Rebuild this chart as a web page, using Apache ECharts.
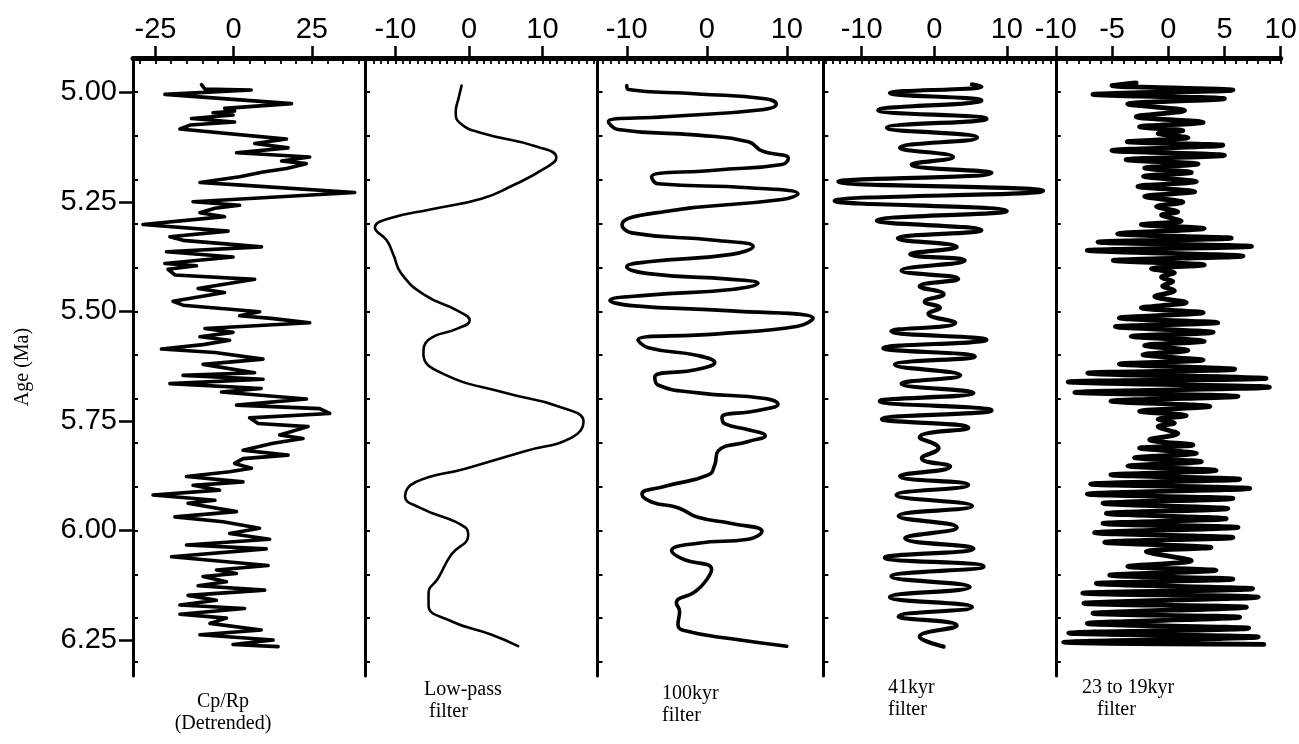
<!DOCTYPE html>
<html><head><meta charset="utf-8">
<script src="https://cdn.jsdelivr.net/npm/echarts@6/dist/echarts.min.js"></script>
<style>html,body{margin:0;padding:0;background:#fff}#c{width:1299px;height:744px}</style>
</head><body><div id="c"></div>
<script>
// ---------- DATA: [age (Ma), value] ----------
const cpRp = [[4.983,-10.3],[4.993,-9.2],[4.995,5.6],[5.005,-22.0],[5.026,18.5],[5.037,-2.9],[5.043,0.3],[5.047,-6.6],[5.052,-0.2],[5.060,-13.5],[5.068,0.3],[5.075,-14.0],[5.084,-17.2],[5.107,16.9],[5.117,6.7],[5.127,17.4],[5.138,0.9],[5.148,24.3],[5.157,15.3],[5.163,23.2],[5.174,16.9],[5.182,9.4],[5.193,1.9],[5.206,-10.8],[5.212,2.5],[5.229,38.7],[5.250,-13.0],[5.258,1.9],[5.265,-6.0],[5.275,-10.8],[5.284,-2.9],[5.302,-29.0],[5.317,-1.8],[5.330,-20.4],[5.338,-16.2],[5.353,8.9],[5.364,-21.5],[5.376,-0.2],[5.391,-22.0],[5.396,-11.9],[5.404,-21.0],[5.417,-18.8],[5.427,6.7],[5.448,-11.4],[5.457,-2.9],[5.477,-19.4],[5.486,-16.2],[5.501,8.3],[5.510,1.9],[5.516,12.0],[5.526,24.3],[5.539,-9.2],[5.548,-0.2],[5.558,-10.8],[5.566,-1.3],[5.576,-9.8],[5.586,-23.1],[5.594,-6.0],[5.609,9.4],[5.621,-9.8],[5.640,6.7],[5.646,-16.2],[5.655,9.4],[5.665,-20.4],[5.676,8.8],[5.684,-3.9],[5.700,23.3],[5.714,0.9],[5.722,27.5],[5.733,30.7],[5.743,5.1],[5.756,7.8],[5.763,23.8],[5.782,14.7],[5.790,22.2],[5.801,12.6],[5.817,3.0],[5.828,17.4],[5.836,3.0],[5.847,0.3],[5.858,5.7],[5.866,-1.3],[5.877,-15.1],[5.889,3.0],[5.897,-13.0],[5.908,-4.5],[5.919,-25.8],[5.931,-6.0],[5.938,-14.6],[5.957,0.9],[5.969,-18.8],[5.980,-3.4],[5.995,8.3],[6.007,-1.3],[6.020,11.5],[6.033,-15.1],[6.042,10.4],[6.060,-19.9],[6.080,11.0],[6.090,-5.5],[6.098,0.9],[6.105,-9.8],[6.117,-2.3],[6.126,-11.4],[6.136,9.9],[6.148,-14.6],[6.159,-5.5],[6.170,-17.2],[6.178,3.5],[6.191,-17.2],[6.200,-2.3],[6.212,-7.6],[6.227,8.8],[6.238,-10.8],[6.250,12.6],[6.260,-0.2],[6.265,14.2]];

const lowPass = [[4.985,-1.0],[5.013,-1.4],[5.045,-1.8],[5.071,-1.2],[5.093,1.7],[5.125,9.4],[5.149,11.9],[5.174,10.3],[5.214,5.8],[5.243,1.7],[5.267,-5.1],[5.289,-11.0],[5.309,-12.8],[5.338,-11.2],[5.370,-10.3],[5.414,-9.2],[5.463,-6.0],[5.499,-1.5],[5.521,0.1],[5.539,-1.5],[5.565,-5.5],[5.597,-6.2],[5.641,-3.7],[5.686,4.9],[5.717,12.2],[5.752,15.6],[5.788,14.0],[5.819,7.6],[5.859,-0.5],[5.890,-7.3],[5.922,-8.7],[5.948,-6.7],[5.993,-0.5],[6.011,-0.1],[6.055,-2.4],[6.109,-4.2],[6.144,-5.5],[6.171,-5.5],[6.207,-2.4],[6.238,3.1],[6.264,6.7]];

const kyr100 = [[4.985,-10.0],[4.994,-9.8],[5.004,-1.1],[5.015,7.3],[5.027,8.7],[5.040,6.9],[5.056,-5.2],[5.067,-12.3],[5.085,-11.1],[5.098,-1.1],[5.113,5.2],[5.134,6.9],[5.151,10.2],[5.165,9.4],[5.178,1.0],[5.193,-6.9],[5.209,-6.1],[5.218,5.2],[5.232,11.4],[5.245,9.4],[5.272,-5.2],[5.303,-10.6],[5.321,-9.4],[5.338,1.0],[5.352,5.8],[5.370,3.1],[5.387,-7.3],[5.398,-10.0],[5.414,-7.3],[5.427,3.1],[5.436,6.4],[5.450,3.1],[5.463,-7.3],[5.475,-12.1],[5.487,-9.4],[5.499,3.1],[5.516,13.3],[5.534,11.4],[5.552,1.0],[5.565,-8.6],[5.583,-7.3],[5.601,-1.1],[5.617,1.0],[5.632,-1.1],[5.650,-6.5],[5.668,-6.1],[5.686,-1.1],[5.699,7.3],[5.712,8.9],[5.726,6.4],[5.742,1.9],[5.757,2.3],[5.770,5.2],[5.784,7.3],[5.797,5.2],[5.819,1.4],[5.850,1.0],[5.873,0.2],[5.899,-5.2],[5.917,-8.1],[5.935,-6.9],[5.948,-3.6],[5.970,-1.1],[5.984,3.1],[6.002,6.9],[6.020,5.2],[6.029,-1.1],[6.046,-4.4],[6.064,-3.1],[6.089,0.6],[6.117,-0.2],[6.140,-1.5],[6.166,-3.8],[6.184,-3.4],[6.215,-3.6],[6.229,-2.7],[6.247,3.1],[6.264,10.0]];

const kyr41 = [[4.982,5.2],[4.987,6.5],[5.002,-6.1],[5.019,6.5],[5.041,-7.7],[5.061,7.2],[5.081,-6.5],[5.104,5.9],[5.127,-4.7],[5.148,2.6],[5.165,-3.1],[5.184,7.9],[5.204,-13.2],[5.225,15.0],[5.248,-13.7],[5.271,10.0],[5.293,-7.9],[5.315,6.5],[5.334,-5.0],[5.353,3.1],[5.370,-3.3],[5.384,4.2],[5.407,-4.5],[5.426,3.3],[5.443,-2.0],[5.461,1.3],[5.478,-1.3],[5.492,0.8],[5.505,-0.8],[5.526,2.9],[5.545,-5.9],[5.565,7.2],[5.584,-7.0],[5.603,5.6],[5.622,-5.4],[5.646,3.6],[5.665,-4.5],[5.686,5.4],[5.705,-7.5],[5.726,7.9],[5.746,-7.2],[5.766,4.7],[5.787,-2.0],[5.812,0.6],[5.835,-1.7],[5.854,2.2],[5.876,-4.7],[5.896,4.7],[5.919,-5.2],[5.944,5.2],[5.967,-4.9],[5.993,3.1],[6.018,-4.0],[6.041,5.4],[6.062,-6.8],[6.082,6.8],[6.105,-5.9],[6.129,4.9],[6.152,-6.1],[6.175,5.2],[6.196,-4.9],[6.217,3.1],[6.242,-2.0],[6.265,1.3]];

const kyr23to19 = [[4.979,-2.85],[4.985,-5.0],[4.995,5.75],[5.005,-6.7],[5.015,5.0],[5.027,-3.6],[5.042,1.45],[5.056,-2.85],[5.069,3.1],[5.079,-2.55],[5.088,1.3],[5.094,-0.9],[5.104,1.75],[5.113,-3.65],[5.121,4.85],[5.133,-5.0],[5.144,5.0],[5.154,-3.75],[5.164,2.65],[5.173,-2.1],[5.183,2.05],[5.192,-2.2],[5.204,2.5],[5.215,-2.7],[5.227,2.35],[5.238,-2.1],[5.251,1.3],[5.261,-1.05],[5.273,0.85],[5.280,-0.6],[5.294,1.15],[5.302,-2.4],[5.311,3.2],[5.323,-4.5],[5.333,5.6],[5.342,-6.25],[5.352,7.4],[5.361,-7.2],[5.374,6.65],[5.384,-4.9],[5.394,3.2],[5.403,-1.5],[5.412,0.55],[5.422,-0.6],[5.432,0.4],[5.442,-0.5],[5.453,0.55],[5.466,-1.2],[5.480,1.6],[5.492,-2.4],[5.503,3.1],[5.515,-4.35],[5.526,4.4],[5.535,-4.7],[5.548,4.0],[5.557,-3.3],[5.568,3.2],[5.578,-2.1],[5.589,1.75],[5.599,-2.25],[5.611,3.1],[5.620,-4.35],[5.632,5.9],[5.641,-7.15],[5.653,8.7],[5.661,-8.9],[5.673,9.0],[5.685,-8.3],[5.694,6.2],[5.705,-5.1],[5.717,3.7],[5.728,-2.55],[5.738,1.6],[5.746,-0.9],[5.755,0.55],[5.763,-0.9],[5.779,0.85],[5.793,-1.65],[5.805,2.2],[5.812,-2.55],[5.824,2.5],[5.834,-3.0],[5.843,2.95],[5.853,-3.6],[5.863,4.25],[5.873,-5.1],[5.883,6.35],[5.894,-6.9],[5.904,7.25],[5.917,-7.2],[5.927,5.75],[5.938,-5.8],[5.950,5.3],[5.961,-5.5],[5.973,5.15],[5.984,-5.8],[5.993,6.2],[6.005,-6.55],[6.016,5.75],[6.027,-5.65],[6.039,3.8],[6.048,-1.95],[6.069,2.05],[6.082,-3.6],[6.091,4.25],[6.102,-5.2],[6.111,5.75],[6.121,-6.4],[6.133,7.5],[6.143,-7.6],[6.152,8.0],[6.166,-7.5],[6.175,6.95],[6.189,-6.7],[6.198,6.35],[6.212,-7.2],[6.223,7.15],[6.234,-8.85],[6.243,8.0],[6.255,-9.3],[6.260,8.5]];

// ---------- TICKS / LABELS ----------
const ageTicks = [5.00, 5.25, 5.50, 5.75, 6.00, 6.25];
const ageMinorTicks = [5.0,5.1,5.2,5.3,5.4,5.5,5.6,5.7,5.8,5.9,6.0,6.1,6.2,6.3];
const ticksP1 = [-25, 0, 25];
const ticksP2 = [-10, 0, 10];
const ticksP3 = [-10, 0, 10];
const ticksP4 = [-10, 0, 10];
const ticksP5 = [-10, -5, 0, 5, 10];
const panelTitles = ['Cp/Rp\n(Detrended)', 'Low-pass\n filter', '100kyr\nfilter', '41kyr\nfilter', '23 to 19kyr\n   filter'];
const yTitle = 'Age (Ma)';

// ---------- LAYOUT ----------
const bounds = [133, 365, 597.5, 823.4, 1055.8, 1280.7];
const gridTop = 58, gridHeight = 618;
const ageMin = 4.922, ageMax = 6.332;
function range(a, b, s) { const r = []; for (let v = a; v <= b + 1e-9; v += s) r.push(+v.toFixed(3)); return r; }
const panels = [
  { min: -32.2, max: 42.0, ticks: ticksP1, minor: range(-30, 40, 5), data: cpRp, lw: 3.6, smooth: false },
  { min: -14.15, max: 17.5, ticks: ticksP2, minor: range(-14, 17, 1), data: lowPass, lw: 2.6, smooth: 0.5 },
  { min: -13.66, max: 14.58, ticks: ticksP3, minor: range(-13, 14, 1), data: kyr100, lw: 3.6, smooth: 0.5 },
  { min: -15.26, max: 16.75, ticks: ticksP4, minor: range(-15, 16, 1), data: kyr41, lw: 4.2, smooth: 0.5 },
  { min: -10, max: 10, ticks: ticksP5, minor: range(-10, 10, 1), data: kyr23to19, lw: 4.8, smooth: 0.3 }
];
const sansFont = '"Liberation Sans", Arial, sans-serif';
const serifFont = '"Liberation Serif", "Times New Roman", serif';

const grid = [], xAxis = [], yAxis = [], series = [];
panels.forEach((p, i) => {
  const left = bounds[i], width = bounds[i + 1] - bounds[i];
  for (let k = 0; k < 2; k++) grid.push({ left, width, top: gridTop, height: gridHeight, containLabel: false, outerBoundsMode: 'none' });
  const gMain = 2 * i, gOver = 2 * i + 1;
  xAxis.push({
    type: 'value', gridIndex: gMain, position: 'top', min: p.min, max: p.max,
    axisLine: { show: true, onZero: false, lineStyle: { color: '#000', width: 5 } },
    axisTick: { show: true, inside: false, length: 12, customValues: p.ticks, lineStyle: { color: '#000', width: 2.5 } },
    axisLabel: { show: true, customValues: p.ticks, margin: 14, color: '#000', fontSize: 29, fontFamily: sansFont },
    splitLine: { show: false }
  });
  xAxis.push({
    type: 'value', gridIndex: gOver, position: 'top', min: p.min, max: p.max,
    axisLine: { show: false, onZero: false },
    axisTick: { show: true, inside: true, length: 6, customValues: p.minor, lineStyle: { color: '#000', width: 1.8 } },
    axisLabel: { show: false }, splitLine: { show: false }
  });
  yAxis.push({
    type: 'value', gridIndex: gMain, position: 'left', inverse: true, min: ageMin, max: ageMax,
    axisLine: { show: true, onZero: false, lineStyle: { color: '#000', width: 3 } },
    axisTick: { show: true, inside: true, length: 5, customValues: ageMinorTicks, lineStyle: { color: '#000', width: 2 } },
    axisLabel: { show: false }, splitLine: { show: false }
  });
  if (i === 0) {
    yAxis.push({
      type: 'value', gridIndex: gOver, position: 'left', inverse: true, min: ageMin, max: ageMax,
      name: yTitle, nameLocation: 'middle', nameGap: 100,
      nameTextStyle: { color: '#000', fontSize: 20, fontFamily: serifFont },
      axisLine: { show: false, onZero: false },
      axisTick: { show: true, inside: false, length: 14, customValues: ageTicks, lineStyle: { color: '#000', width: 2.5 } },
      axisLabel: { show: true, customValues: ageTicks, margin: 16, color: '#000', fontSize: 29, fontFamily: sansFont, formatter: v => v.toFixed(2) },
      splitLine: { show: false }
    });
  } else {
    yAxis.push({ type: 'value', gridIndex: gOver, inverse: true, min: ageMin, max: ageMax, show: false, axisLine: { onZero: false } });
  }
  series.push({
    type: 'line', xAxisIndex: gMain, yAxisIndex: gMain,
    data: p.data.map(d => [d[1], d[0]]),
    showSymbol: false, symbol: 'none', smooth: p.smooth, silent: true,
    lineStyle: { color: '#000', width: p.lw, cap: 'round', join: 'round' }
  });
});

const titlePos = [
  { x: 223, y: 713, align: 'center' },
  { x: 424, y: 701, align: 'left' },
  { x: 662, y: 705, align: 'left' },
  { x: 888, y: 699, align: 'left' },
  { x: 1082, y: 699, align: 'left' }
];
const graphic = panelTitles.map((t, i) => ({
  type: 'text', x: titlePos[i].x, y: titlePos[i].y, silent: true,
  style: { text: t, fill: '#000', font: '20px ' + serifFont, align: titlePos[i].align, verticalAlign: 'middle', lineHeight: 22 }
}));

const chart = echarts.init(document.getElementById('c'), null, { renderer: 'canvas' });
chart.setOption({ animation: false, backgroundColor: '#fff', grid, xAxis, yAxis, series, graphic });
</script></body></html>
